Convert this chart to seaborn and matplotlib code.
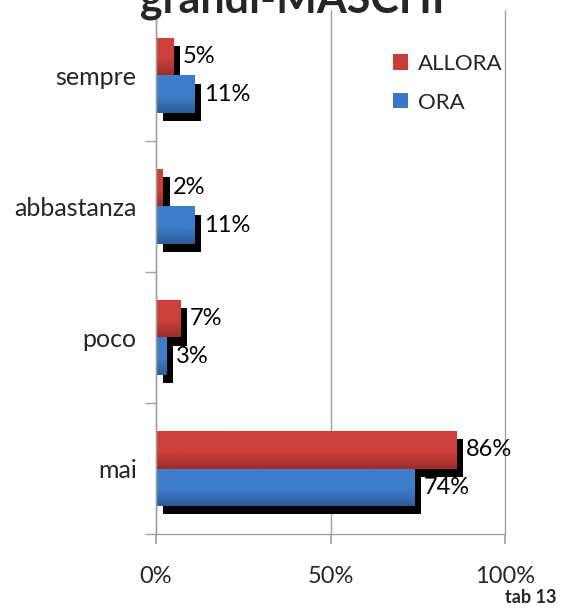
import numpy as np
import pandas as pd
import matplotlib
matplotlib.use('Agg')
import matplotlib.pyplot as plt
import matplotlib.patheffects as pe
from matplotlib.colors import to_rgb
from matplotlib.patches import Patch
import seaborn as sns

# data
categories = ["sempre", "abbastanza", "poco", "mai"]
allora = [5, 2, 7, 86]
ora = [11, 11, 3, 74]
series = ["ALLORA", "ORA"]
colors = {"ALLORA": "#C63C38", "ORA": "#3A76C6"}
# top/bottom shades for the gradient fill
shades = {"ALLORA": ("#CD403C", "#9C2C2A"), "ORA": ("#3E7DCB", "#2C5C98")}

df = pd.DataFrame({
    "cat": categories * 2,
    "val": allora + ora,
    "serie": ["ALLORA"] * len(categories) + ["ORA"] * len(categories),
})

sns.set_theme(style="white")
plt.rcParams['font.family'] = ['Lato', 'DejaVu Sans']

fig = plt.figure(figsize=(5.62, 6.08), dpi=100)
ax = fig.add_axes([0.2776, 0.1217, 0.6210, 0.8619])

sns.barplot(data=df, y="cat", x="val", hue="serie", orient="h",
            order=categories, hue_order=series, palette=colors,
            width=0.57, saturation=1, legend=False, ax=ax)

ax.set_xlim(0, 100)
ax.set_ylim(3.5, -0.5)

shadow = [pe.SimplePatchShadow(offset=(5, -6), shadow_rgbFace='black', alpha=1),
          pe.Normal()]
for s, cont in zip(series, ax.containers):
    top, bot = (np.array(to_rgb(c)) for c in shades[s])
    t = np.concatenate([np.zeros(55), np.linspace(0, 1, 45)])[:, None]
    grad = (top + (bot - top) * t)[:, None, :]
    for bar in cont:
        bar.set_path_effects(shadow)
        bar.set_linewidth(0)
        x0, y0, w, h = bar.get_x(), bar.get_y(), bar.get_width(), bar.get_height()
        im = ax.imshow(grad, extent=(x0, x0 + w, y0 + h, y0), origin='upper',
                       aspect='auto', interpolation='bilinear',
                       zorder=bar.get_zorder() + 0.1)
        im.set_clip_path(bar)
    ax.bar_label(cont, labels=[f"{int(v)}%" for v in cont.datavalues],
                 padding=7, fontsize=17, color='black')

ax.set_xlim(0, 100)
ax.set_ylim(3.5, -0.5)
ax.set_xticks([0, 50, 100])
ax.set_xticklabels(["0%", "50%", "100%"], fontsize=17)
ax.set_yticks(range(len(categories)))
ax.set_yticklabels(categories, fontsize=18)
ax.set_xlabel("")
ax.set_ylabel("")

# category separator ticks on the left
ax.set_yticks(np.arange(-0.5, len(categories), 1), minor=True)
ax.tick_params(axis='y', which='major', length=0, pad=14)
ax.tick_params(axis='y', which='minor', length=8, color='#A0A0A0', direction='out', left=True)
ax.tick_params(axis='x', length=7, color='#A0A0A0', direction='out', bottom=True, pad=16)

ax.grid(axis='x', color='#A0A0A0', linewidth=1)
for gl in ax.get_xgridlines():
    gl.set_clip_on(False)
ax.set_axisbelow(True)
for side in ['top', 'right']:
    ax.spines[side].set_visible(False)
for side in ['left', 'bottom']:
    ax.spines[side].set_color('#A0A0A0')
    ax.spines[side].set_linewidth(1)

handles = [Patch(facecolor=colors[s], edgecolor='none') for s in series]
fig.legend(handles, series, loc='upper left', bbox_to_anchor=(0.68, 0.93),
           frameon=False, fontsize=16, handlelength=0.68, handleheight=0.68,
           handletextpad=0.45, labelspacing=0.85, borderpad=0)

# title sits partly above the canvas, as in the reference
fig.text(0.52, 1 - 13 / 608, "grandi-MASCHI", ha='center', va='baseline',
         fontsize=31, fontweight='bold')
fig.text(0.99, 1 - 603 / 608, "tab 13", ha='right', va='baseline',
         fontsize=13, fontweight='bold')

fig.savefig("out.png", dpi=100)
